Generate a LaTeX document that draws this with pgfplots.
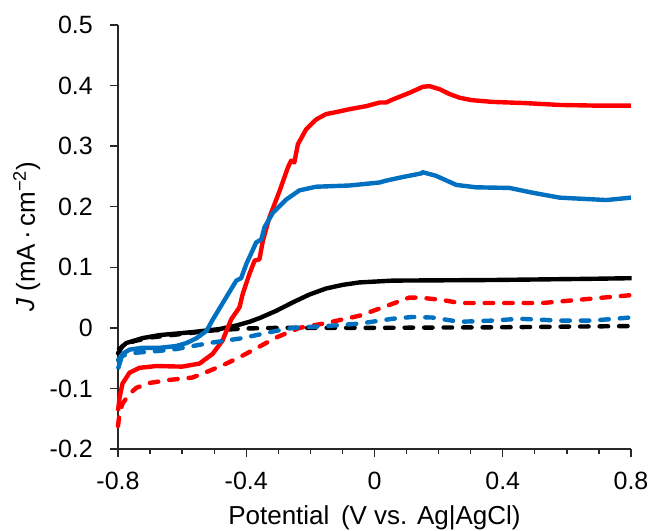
\documentclass[border=0pt]{standalone}
\usepackage{fontspec}
\setmainfont{Liberation Sans}
\usepackage{pgfplots}
\pgfplotsset{compat=1.18}
\definecolor{myred}{RGB}{255,0,0}
\definecolor{myblue}{RGB}{0,112,192}
\definecolor{axgray}{RGB}{40,40,40}
\newcommand{\bigfont}{\fontsize{25}{30}\selectfont}
\newcommand{\labfont}{\fontsize{26}{31}\selectfont}
\begin{document}
\begin{tikzpicture}
\path[use as bounding box] (-118pt,-81pt) rectangle (535pt,449pt);
\begin{axis}[
  at={(0pt,0pt)}, anchor=south west,
  scale only axis, width=513pt, height=424pt,
  xmin=-0.8, xmax=0.8, ymin=-0.2, ymax=0.5,
  axis x line*=bottom, axis y line*=left,
  axis line style={-, line width=1.3pt, axgray},
  xtick={-0.8,-0.4,0,0.4,0.8},
  minor xtick={-0.7,-0.6,-0.5,-0.3,-0.2,-0.1,0.1,0.2,0.3,0.5,0.6,0.7},
  ytick={-0.2,-0.1,0,0.1,0.2,0.3,0.4,0.5},
  tick align=outside, major tick length=8pt, minor tick length=5pt,
  every tick/.style={line width=1.3pt, axgray},
  /pgf/number format/assume math mode=true,
  tick label style={font=\bigfont, black},
  xticklabel style={anchor=north, inner sep=0pt, yshift=-15pt},
  yticklabel style={anchor=east, inner sep=0pt, xshift=-17pt},
  xlabel={Potential\, (V vs. Ag|AgCl)},
  ylabel={\textit{J} (mA\,·\,cm\textsuperscript{−2})},
  label style={font=\labfont, inner sep=0pt},
  xlabel style={at={(axis description cs:0.5,-0.177)}, anchor=base},
  ylabel style={at={(axis description cs:-0.1618,0.5)}, anchor=base},
  clip=false,
  every axis plot/.append style={line width=4.4pt, line join=round},
  dashedline/.style={line cap=round, dash pattern=on 8.5pt off 11pt},
]
% black dashed
\addplot[black, dashedline] coordinates {
(-0.800,-0.042) (-0.786,-0.030) (-0.750,-0.022) (-0.700,-0.016) (-0.600,-0.010)
(-0.500,-0.004) (-0.400,-0.001) (-0.300,0.000) (0.000,0.000) (0.400,0.001) (0.800,0.003)
};
% black solid
\addplot[black] coordinates {
(-0.800,-0.037) (-0.774,-0.025) (-0.724,-0.017) (-0.671,-0.012) (-0.568,-0.007)
(-0.484,-0.002) (-0.430,0.004) (-0.390,0.010) (-0.359,0.016) (-0.307,0.028) (-0.255,0.042)
(-0.203,0.055) (-0.151,0.065) (-0.099,0.071) (-0.047,0.075) (0.057,0.078)
(0.368,0.079) (0.680,0.081) (0.802,0.082)
};
% red dashed
\addplot[myred, dashedline] coordinates {
(-0.800,-0.162) (-0.795,-0.140) (-0.786,-0.125) (-0.764,-0.109) (-0.743,-0.099)
(-0.702,-0.091) (-0.640,-0.086) (-0.568,-0.082) (-0.515,-0.071) (-0.462,-0.059)
(-0.412,-0.046) (-0.359,-0.031) (-0.307,-0.016) (-0.234,0.000) (-0.150,0.008)
(-0.047,0.020) (0.037,0.036) (0.109,0.050) (0.140,0.050) (0.212,0.046)
(0.265,0.041) (0.368,0.041) (0.524,0.041) (0.630,0.046) (0.800,0.054)
};
% red solid
\addplot[myred] coordinates {
(-0.800,-0.137) (-0.795,-0.115) (-0.786,-0.092) (-0.764,-0.074) (-0.733,-0.066)
(-0.680,-0.063) (-0.600,-0.064) (-0.546,-0.059) (-0.505,-0.043) (-0.474,-0.021)
(-0.447,0.014) (-0.421,0.034) (-0.411,0.056) (-0.390,0.089) (-0.374,0.111)
(-0.359,0.113) (-0.348,0.144) (-0.328,0.182) (-0.296,0.226) (-0.270,0.265)
(-0.260,0.276) (-0.250,0.273) (-0.239,0.303) (-0.213,0.328) (-0.182,0.344)
(-0.151,0.353) (-0.130,0.355) (-0.078,0.361) (-0.026,0.366) (0.016,0.372)
(0.036,0.372) (0.057,0.377) (0.109,0.388) (0.151,0.398) (0.172,0.399)
(0.203,0.394) (0.234,0.386) (0.265,0.380) (0.302,0.376) (0.369,0.373)
(0.473,0.371) (0.577,0.368) (0.681,0.367) (0.800,0.367)
};
% blue dashed
\addplot[myblue, dashedline] coordinates {
(-0.800,-0.053) (-0.786,-0.046) (-0.743,-0.041) (-0.671,-0.038) (-0.618,-0.035)
(-0.515,-0.025) (-0.412,-0.017) (-0.307,-0.005) (-0.256,0.000) (-0.150,0.003)
(-0.047,0.007) (0.056,0.015) (0.119,0.018) (0.181,0.017) (0.265,0.010)
(0.368,0.012) (0.452,0.015) (0.577,0.012) (0.680,0.012) (0.795,0.017)
};
% blue solid
\addplot[myblue] coordinates {
(-0.800,-0.068) (-0.786,-0.043) (-0.764,-0.036) (-0.724,-0.033) (-0.671,-0.033)
(-0.618,-0.030) (-0.586,-0.025) (-0.555,-0.017) (-0.524,-0.005) (-0.504,0.014)
(-0.463,0.050) (-0.431,0.078) (-0.416,0.082) (-0.400,0.105) (-0.369,0.141)
(-0.353,0.146) (-0.343,0.166) (-0.317,0.190) (-0.275,0.212) (-0.234,0.227)
(-0.182,0.233) (-0.078,0.235) (0.016,0.240) (0.036,0.243) (0.088,0.249)
(0.146,0.255) (0.150,0.257) (0.192,0.251) (0.255,0.236) (0.317,0.232)
(0.421,0.231) (0.494,0.223) (0.577,0.215) (0.723,0.211) (0.800,0.215)
};
\end{axis}
\end{tikzpicture}
\end{document}
